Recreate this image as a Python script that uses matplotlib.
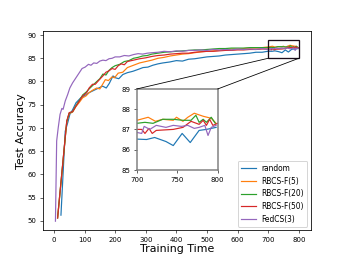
import matplotlib
matplotlib.use("Agg")
import matplotlib.pyplot as plt
from matplotlib.patches import Rectangle, ConnectionPatch

# random
rand_x = [23, 37, 45, 52, 61, 72, 88, 99, 115, 137, 159, 171, 181, 193, 201, 212, 225, 240, 258, 275,
          291, 307, 323, 340, 356, 378, 400, 420, 440, 460, 480, 500, 520, 540, 560, 580, 600, 620, 640,
          660, 680, 700, 712, 722, 736, 745, 756, 766, 777, 786, 798]
rand_y = [51.2, 69.3, 71.1, 72.9, 73.9, 75.4, 76.5, 76.9, 77.6, 78.3, 79.0, 78.6, 79.6, 81.2, 80.8, 80.6,
          81.5, 81.9, 82.2, 82.6, 83.0, 83.1, 83.5, 83.8, 84.0, 84.2, 84.5, 84.4, 84.8, 84.9, 85.1, 85.3,
          85.4, 85.5, 85.7, 85.8, 85.9, 86.0, 86.1, 86.3, 86.3, 86.52, 86.5, 86.6, 86.4, 86.2, 86.8, 86.35,
          86.95, 87.0, 87.1]

# RBCS-F(5)
f5_x = [12, 42, 50, 61, 72, 83, 94, 105, 115, 126, 140, 150, 160, 168, 178, 190, 198, 210, 225, 240,
        260, 280, 300, 320, 340, 360, 380, 400, 420, 440, 460, 480, 500, 520, 540, 560, 580, 600, 620,
        640, 660, 680, 700, 714, 723, 732, 745, 749, 757, 763, 771, 782, 792, 798]
f5_y = [50.6, 71.3, 73.1, 73.4, 74.6, 75.5, 76.5, 76.9, 77.6, 78.1, 78.6, 78.4, 79.5, 80.4, 80.2, 81.0,
        80.8, 81.8, 82.0, 83.0, 83.5, 84.0, 84.3, 84.6, 85.0, 85.2, 85.5, 85.7, 85.9, 86.0, 86.2, 86.4,
        86.5, 86.6, 86.7, 86.8, 87.0, 87.0, 87.1, 87.2, 87.2, 87.3, 87.45, 87.6, 87.4, 87.5, 87.45, 87.6,
        87.4, 87.6, 87.8, 87.65, 87.55, 87.3]

# RBCS-F(20)
f20_x = [12, 42, 50, 61, 72, 83, 94, 105, 115, 126, 140, 150, 160, 170, 180, 190, 200, 215, 230, 245,
         260, 275, 290, 305, 320, 340, 360, 380, 400, 420, 440, 460, 480, 500, 520, 540, 560, 580, 600,
         620, 640, 660, 680, 700, 710, 720, 732, 745, 757, 767, 773, 777, 782, 786, 792, 797]
f20_y = [50.6, 71.4, 73.2, 73.5, 74.8, 75.9, 77.1, 77.7, 78.4, 79.1, 80.0, 80.6, 81.6, 81.4, 82.4, 83.0,
         83.4, 83.7, 84.3, 84.5, 85.0, 85.2, 85.5, 85.6, 85.9, 86.1, 86.3, 86.4, 86.5, 86.6, 86.7, 86.8,
         86.8, 86.9, 87.0, 87.1, 87.1, 87.2, 87.2, 87.2, 87.3, 87.3, 87.3, 87.3, 87.35, 87.3, 87.5, 87.5,
         87.45, 87.45, 87.7, 87.35, 87.5, 87.35, 87.6, 87.3]

# RBCS-F(50)
f50_x = [12, 42, 50, 61, 72, 83, 94, 107, 115, 126, 135, 150, 160, 170, 180, 190, 200, 210, 220, 230,
         240, 260, 280, 300, 320, 340, 360, 380, 400, 420, 440, 460, 480, 500, 520, 540, 560, 580, 600,
         620, 640, 660, 680, 700, 706, 710, 715, 719, 724, 745, 757, 767, 777, 782, 786, 790, 794, 800]
f50_y = [50.6, 71.5, 73.3, 73.5, 74.7, 75.8, 76.9, 77.6, 78.6, 79.4, 79.4, 80.5, 81.2, 82.0, 82.3, 82.8,
         82.6, 83.4, 83.8, 83.6, 84.3, 84.6, 84.9, 85.1, 85.4, 85.6, 85.7, 85.9, 86.0, 86.1, 86.1, 86.3,
         86.4, 86.5, 86.5, 86.6, 86.7, 86.7, 86.8, 86.8, 86.9, 86.9, 87.0, 87.0, 87.0, 86.8, 87.05, 86.8,
         86.95, 87.0, 87.1, 87.4, 87.25, 87.45, 87.2, 87.5, 87.2, 87.3]

# FedCS(3)
fed_x = [5, 9, 14, 20, 26, 30, 37, 45, 52, 61, 72, 83, 92, 102, 113, 121, 130, 140, 150, 160, 170, 180,
         190, 200, 215, 230, 245, 260, 275, 290, 305, 320, 340, 360, 380, 400, 420, 440, 460, 480, 500,
         520, 540, 560, 580, 600, 620, 640, 660, 680, 700, 706, 709, 716, 724, 736, 745, 755, 763, 771,
         777, 784, 788, 792, 798]
fed_y = [49.9, 67.2, 70.0, 72.9, 74.2, 74.0, 75.8, 77.2, 78.6, 79.7, 80.8, 81.9, 82.8, 83.1, 83.7, 83.5,
         84.0, 83.9, 84.4, 84.6, 84.5, 84.9, 85.0, 85.3, 85.3, 85.6, 85.5, 85.8, 86.0, 85.9, 86.1, 86.2,
         86.3, 86.5, 86.4, 86.6, 86.5, 86.7, 86.7, 86.8, 86.7, 86.9, 86.8, 86.9, 86.8, 87.0, 86.9, 87.0,
         86.9, 87.1, 86.85, 86.8, 87.15, 87.0, 87.2, 87.1, 87.2, 87.15, 87.2, 87.05, 87.1, 87.2, 86.7,
         87.1, 87.2]

series = [("random", rand_x, rand_y), ("RBCS-F(5)", f5_x, f5_y), ("RBCS-F(20)", f20_x, f20_y),
          ("RBCS-F(50)", f50_x, f50_y), ("FedCS(3)", fed_x, fed_y)]
colors = ["tab:blue", "tab:orange", "tab:green", "tab:red", "tab:purple"]

fig = plt.figure(figsize=(4.8, 3.6), dpi=72)
ax = fig.add_subplot(1, 1, 1)
for (name, xs, ys), c in zip(series, colors):
    ax.plot(xs, ys, color=c, lw=1.2, label=name)

ax.set_xlim(-35, 840)
ax.set_ylim(47.9, 90.9)
ax.set_xlabel("Training Time", fontsize=11, labelpad=1)
ax.set_ylabel("Test Accuracy", fontsize=11, labelpad=2)
ax.tick_params(labelsize=7, width=0.6, length=3)
for s in ax.spines.values():
    s.set_linewidth(0.8)
ax.legend(loc="lower right", fontsize=7.5)

ax.add_patch(Rectangle((700, 85), 100, 4, fill=False, ec="#1a0d1a", lw=1.3, zorder=6))

# zoomed inset
axins = fig.add_axes([0.396, 0.344, 0.234, 0.312])
for (name, xs, ys), c in zip(series, colors):
    axins.plot(xs, ys, color=c, lw=1.2)
axins.set_xlim(700, 800)
axins.set_ylim(85, 89)
axins.set_xticks([700, 750, 800])
axins.set_yticks([85, 86, 87, 88, 89])
axins.tick_params(labelsize=7, width=0.6, length=3)
for s in axins.spines.values():
    s.set_edgecolor("0.5")
    s.set_linewidth(1.5)

for xa, xb in [((700, 85), (0, 1)), ((800, 85), (1, 1))]:
    con = ConnectionPatch(xyA=xa, coordsA=ax.transData, xyB=xb, coordsB=axins.transAxes,
                          color="black", lw=0.8)
    fig.add_artist(con)

fig.savefig("out.png", dpi=72)
